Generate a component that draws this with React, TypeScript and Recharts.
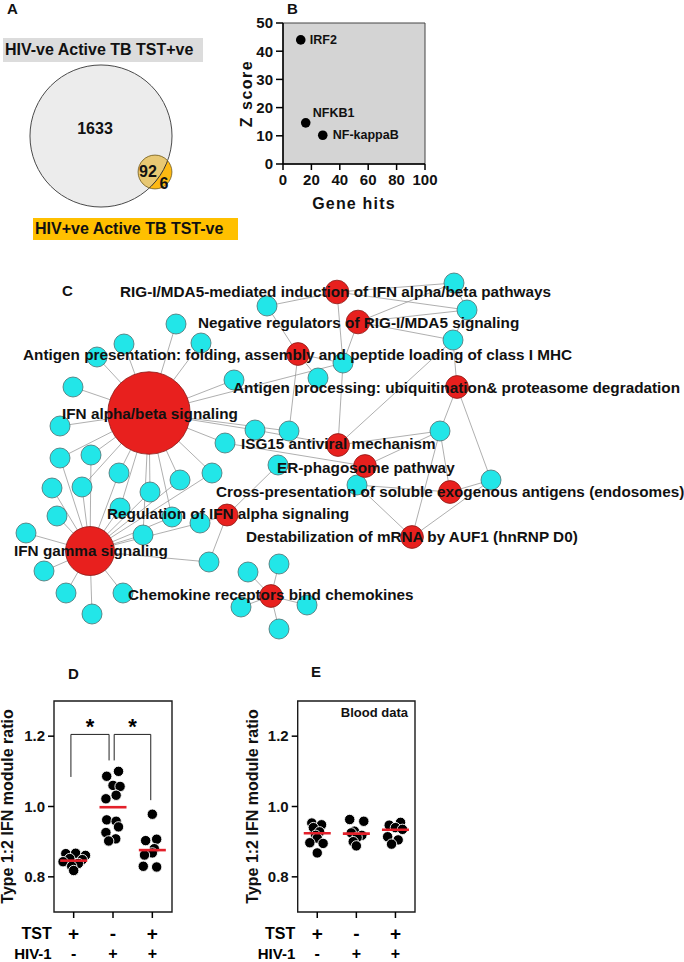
import React from 'react';
import { ScatterChart, Scatter, XAxis, YAxis, ReferenceArea, Label } from 'recharts';

const FONT = '"Liberation Sans", Arial, Helvetica, sans-serif';

// A: Venn of differentially expressed genes
const vennSets = ['HIV-ve Active TB TST+ve', 'HIV+ve Active TB TST-ve'];
const vennOnly = [1633, 6];
const vennShared = 92;

// B: upstream regulators
const tfNames = ['IRF2', 'NFKB1', 'NF-kappaB'];
const tfGeneHits = [12.5, 16, 28];
const tfZScore = [44, 14.6, 10.2];

// C: pathway network (layout coordinates)
const pathwayNames = [
  'IFN alpha/beta signaling',
  'IFN gamma signaling',
  'RIG-I/MDA5-mediated induction of IFN alpha/beta pathways',
  'Negative regulators of RIG-I/MDA5 signaling',
  'Antigen presentation: folding, assembly and peptide loading of class I MHC',
  'Antigen processing: ubiquitination& proteasome degradation',
  'ISG15 antiviral mechanism',
  'ER-phagosome pathway',
  'Cross-presentation of soluble exogenous antigens (endosomes)',
  'Regulation of IFN alpha signaling',
  'Destabilization of mRNA by AUF1 (hnRNP D0)',
  'Chemokine receptors bind chemokines',
];
const pathwayPos: [number, number][] = [
  [149, 413], [90, 551], [337, 292], [358, 322], [298, 354], [457, 387],
  [338, 445], [365, 466], [450, 492], [227, 515], [412, 537], [271, 596],
];
const pathwaySize = [17, 6, 1.4, 1.4, 1.3, 1.3, 1.3, 1.3, 1.3, 1.2, 1.3, 1.3];
const pathwayLabelPos: [number, number][] = [
  [62, 413], [14, 550], [120, 291], [198, 322], [23, 354], [233, 387],
  [241, 443], [277, 467], [216, 491], [107, 513], [246, 536], [128, 594],
];
const genePos: [number, number][] = [
  [267, 306], [176, 324], [124, 344], [201, 343], [97, 357], [73, 387], [234, 380], [318, 378],
  [454, 283], [467, 310], [453, 340], [343, 363], [60, 426], [255, 430], [289, 431], [225, 443],
  [440, 431], [60, 458], [91, 455], [119, 473], [212, 473], [180, 480], [278, 465], [52, 488],
  [82, 487], [150, 492], [357, 485], [491, 480], [57, 516], [120, 508], [172, 517], [200, 523],
  [143, 535], [26, 533], [44, 571], [209, 562], [66, 593], [123, 593], [92, 614], [248, 572],
  [279, 564], [241, 607], [307, 605], [279, 629],
];
const pathwayGenes: number[][] = [
  [2, 3, 4, 5, 6, 7, 12, 13, 14, 15, 16, 18, 19, 20, 21, 22, 25, 26, 30, 31, 33],
  [18, 19, 20, 21, 22, 24, 25, 26, 29, 30, 31, 32, 33, 34, 35, 36, 37, 38, 39],
  [1, 9, 10, 12],
  [9, 10, 11, 12],
  [1, 8, 12, 15],
  [11, 17, 28],
  [11, 12, 14, 17],
  [16, 17, 27],
  [17, 27, 28],
  [23, 32, 36],
  [17, 27, 28],
  [40, 41, 42, 43, 44],
];
const geneLinks: [number, number][] = [[9, 10], [10, 11]];

// D/E: type 1:2 IFN module ratio
const groupTicks = [1, 2, 3];
const tstSigns = ['+', '-', '+'];
const hivSigns = ['-', '+', '+'];
const lungValues = [
  [0.866, 0.867, 0.861, 0.852, 0.849, 0.843, 0.838, 0.83, 0.818],
  [1.1, 1.086, 1.06, 1.057, 1.032, 1.022, 0.962, 0.958, 0.942, 0.926, 0.908, 0.902],
  [0.978, 0.907, 0.903, 0.88, 0.868, 0.862, 0.83, 0.828],
];
const lungJitter = [
  [-0.2, 0.05, 0.3, -0.1, 0.22, -0.27, 0.12, -0.05, 0.0],
  [0.14, -0.16, 0.0, 0.18, 0.08, -0.18, -0.16, 0.08, 0.14, -0.18, 0.07, -0.11],
  [0.0, 0.11, -0.17, 0.05, 0.0, -0.2, -0.23, 0.11],
];
const lungMeans = [0.846, 0.998, 0.876];
const bloodValues = [
  [0.953, 0.948, 0.94, 0.928, 0.918, 0.91, 0.897, 0.895, 0.868],
  [0.963, 0.958, 0.93, 0.925, 0.918, 0.912, 0.9, 0.888],
  [0.955, 0.947, 0.94, 0.935, 0.914, 0.905, 0.893],
];
const bloodJitter = [
  [-0.14, 0.11, -0.1, 0.06, -0.04, 0.0, -0.19, 0.15, 0.0],
  [-0.17, 0.19, -0.05, -0.13, 0.14, 0.02, -0.08, 0.0],
  [0.13, -0.16, 0.0, 0.18, -0.2, 0.07, -0.1],
];
const bloodMeans = [0.924, 0.923, 0.934];
// significance brackets: [x start, y start leg, x end, y end leg], shared top
const lungBrackets = [[0.93, 1.084, 1.9, 1.131], [2.03, 1.131, 2.96, 1.018]];
const bracketTop = 1.205;

const Nothing = () => <g />;

function vTitle(text: string, dx: number, fontSize: number, spacing = 0) {
  return (props: any) => {
    const vb = props.viewBox || {};
    const x = (vb.x ?? 0) + dx;
    const y = (vb.y ?? 0) + (vb.height ?? 0) / 2;
    return (
      <text x={x} y={y} transform={`rotate(-90 ${x} ${y})`} textAnchor="middle" dominantBaseline="central"
        fontFamily={FONT} fontWeight={700} fontSize={fontSize} letterSpacing={spacing} fill="#111">
        {text}
      </text>
    );
  };
}

// ---------- Panel A ----------
const VENN_K = 1.71;
const vennLayout = [{ x: 101, y: 136 }, { x: 155, y: 172 }];
const vennData = vennSets.map((name, i) => ({
  name, x: vennLayout[i].x, y: vennLayout[i].y, total: vennOnly[i] + vennShared, only: vennOnly[i],
}));

const VennShape = (p: any) => {
  const r = VENN_K * Math.sqrt(p.payload.total);
  const txt = { fontFamily: FONT, fontWeight: 700, fontSize: 16, fill: '#111', textAnchor: 'middle' as const, dominantBaseline: 'central' as const };
  if (p.payload.name === vennSets[0]) {
    return (
      <g>
        <circle cx={p.cx} cy={p.cy} r={r} fill="#ececec" stroke="#4a4a4a" strokeWidth={1} />
        <text x={p.cx - 6} y={p.cy - 8} {...txt}>{p.payload.only}</text>
      </g>
    );
  }
  const big = vennData[0];
  const R = VENN_K * Math.sqrt(big.total);
  const bx = p.cx + (big.x - p.payload.x);
  const by = p.cy + (big.y - p.payload.y);
  return (
    <g>
      <defs>
        <clipPath id="vennBigClip"><circle cx={bx} cy={by} r={R} /></clipPath>
        <clipPath id="vennSmallClip"><circle cx={p.cx} cy={p.cy} r={r} /></clipPath>
      </defs>
      <circle cx={p.cx} cy={p.cy} r={r} fill="#fdb913" />
      <circle cx={p.cx} cy={p.cy} r={r} fill="#e8c873" clipPath="url(#vennBigClip)" />
      <circle cx={bx} cy={by} r={R} fill="none" stroke="#333" strokeWidth={1} clipPath="url(#vennSmallClip)" />
      <circle cx={p.cx} cy={p.cy} r={r} fill="none" stroke="#6b5a2a" strokeWidth={0.8} />
      <text x={p.cx - 7} y={p.cy - 1} {...txt}>{vennShared}</text>
      <text x={p.cx + 9} y={p.cy + 11} {...txt}>{p.payload.only}</text>
    </g>
  );
};

// ---------- Panel B ----------
const tfData = tfNames.map((name, i) => ({ name, x: tfGeneHits[i], y: tfZScore[i] }));
const tfLabelOffset: Record<string, [number, number]> = { IRF2: [9, 0], NFKB1: [7, -10], 'NF-kappaB': [10, 0] };
const TfDot = (p: any) => {
  const [dx, dy] = tfLabelOffset[p.payload.name] || [8, 0];
  return (
    <g>
      <circle cx={p.cx} cy={p.cy} r={4.8} fill="#000" />
      <text x={p.cx + dx} y={p.cy + dy} dominantBaseline="central" fontFamily={FONT} fontWeight={700}
        fontSize={12.5} fill="#111">{p.payload.name}</text>
    </g>
  );
};

// ---------- Panel C ----------
const geneNodes = genePos.map(([x, y]) => ({ x, y, size: 1, kind: 'gene' }));
const pathwayNodes = pathwayPos.map(([x, y], i) => ({ x, y, size: pathwaySize[i], kind: 'pathway' }));
const labelNodes = pathwayLabelPos.map(([x, y], i) => ({ x, y, text: pathwayNames[i] }));
const edges: { x: number; y: number }[][] = [];
pathwayGenes.forEach((genes, pi) => genes.forEach((g) => {
  edges.push([{ x: pathwayPos[pi][0], y: pathwayPos[pi][1] }, { x: genePos[g - 1][0], y: genePos[g - 1][1] }]);
}));
geneLinks.forEach(([a, b]) => {
  edges.push([{ x: genePos[a - 1][0], y: genePos[a - 1][1] }, { x: genePos[b - 1][0], y: genePos[b - 1][1] }]);
});

const NodeShape = (p: any) => {
  const r = 10 * Math.sqrt(p.payload.size);
  const gene = p.payload.kind === 'gene';
  return <circle cx={p.cx} cy={p.cy} r={r} fill={gene ? '#22e6e8' : '#e8201e'} stroke={gene ? '#4d6f70' : '#8a1a16'} strokeWidth={0.8} />;
};
const NodeLabel = (p: any) => (
  <text x={p.cx} y={p.cy} dominantBaseline="central" fontFamily={FONT} fontWeight={700} fontSize={15.3} fill="#111">
    {p.payload.text}
  </text>
);

// ---------- Panels D / E ----------
const SignTick = (p: any) => {
  const i = groupTicks.indexOf(p.payload.value);
  const s = { fontFamily: FONT, fontWeight: 700, fill: '#000', dominantBaseline: 'central' as const };
  return (
    <g>
      <text x={p.x} y={p.y + 13} textAnchor="middle" fontSize={19} {...s}>{tstSigns[i]}</text>
      <text x={p.x} y={p.y + 33} textAnchor="middle" fontSize={16} {...s}>{hivSigns[i]}</text>
      {i === 0 && <text x={p.x - 22} y={p.y + 13} textAnchor="end" fontSize={16} {...s}>TST</text>}
      {i === 0 && <text x={p.x - 22} y={p.y + 33} textAnchor="end" fontSize={15} {...s}>HIV-1</text>}
    </g>
  );
};
const Dot = (p: any) => <circle cx={p.cx} cy={p.cy} r={5.2} fill="#000" stroke="#fff" strokeWidth={0.9} />;
const MeanBar = (p: any) => <line x1={p.cx - 13.5} x2={p.cx + 13.5} y1={p.cy} y2={p.cy} stroke="#e3202a" strokeWidth={2.6} />;
const Star = (p: any) => (
  <text x={p.cx} y={p.cy + 12} textAnchor="middle" fontFamily={FONT} fontWeight={700} fontSize={22} fill="#000">*</text>
);

function DotPanel(props: {
  values: number[][]; jitter: number[][]; means: number[]; width: number; yAxisWidth: number;
  rightMargin: number; titleDx: number; note?: string; brackets?: number[][];
}) {
  const { values, jitter, means, width, yAxisWidth, rightMargin, titleDx, note, brackets = [] } = props;
  const dots = values.flatMap((vals, g) => vals.map((v, i) => ({ x: groupTicks[g] + jitter[g][i], y: v })));
  const meanData = means.map((m, g) => ({ x: groupTicks[g], y: m }));
  const stars = brackets.map((b) => ({ x: (b[0] + b[2]) / 2, y: bracketTop + 0.035 }));
  return (
    <ScatterChart width={width} height={312} margin={{ top: 51, right: rightMargin, bottom: 0, left: 0 }}>
      <XAxis type="number" dataKey="x" domain={[0.5, 3.5]} ticks={groupTicks} interval={0} allowDataOverflow
        axisLine={false} tickSize={6} tickLine={{ stroke: '#000', strokeWidth: 1.5 }} height={50}
        tick={(t: any) => <SignTick {...t} />} />
      <YAxis type="number" dataKey="y" domain={[0.7, 1.3]} ticks={[0.8, 1.0, 1.2]} allowDataOverflow
        axisLine={false} tickSize={6} tickMargin={3} width={yAxisWidth}
        tickLine={{ stroke: '#000', strokeWidth: 1.5 }}
        tickFormatter={(v: number) => v.toFixed(1)}
        tick={{ fontFamily: FONT, fontWeight: 700, fontSize: 15, fill: '#111' }}>
        <Label content={vTitle('Type 1:2 IFN module ratio', titleDx, 16)} />
      </YAxis>
      <ReferenceArea x1={0.5} x2={3.5} y1={0.7} y2={1.3} fill="none" stroke="#1a1a1a" strokeWidth={1.4} ifOverflow="visible">
        {note && (
          <Label value={note} position="insideTopRight" offset={7} fontFamily={FONT} fontWeight={700} fontSize={13} fill="#111" />
        )}
      </ReferenceArea>
      {brackets.map((b, i) => (
        <Scatter key={`br${i}`} data={[{ x: b[0], y: b[1] }, { x: b[0], y: bracketTop }, { x: b[2], y: bracketTop }, { x: b[2], y: b[3] }]}
          line={{ stroke: '#222', strokeWidth: 1 }} shape={Nothing} isAnimationActive={false} />
      ))}
      {stars.length > 0 && <Scatter data={stars} shape={Star} isAnimationActive={false} />}
      <Scatter data={dots} shape={Dot} isAnimationActive={false} />
      <Scatter data={meanData} shape={MeanBar} isAnimationActive={false} />
    </ScatterChart>
  );
}

const panelLetter = (t: string, left: number, baseline: number) => (
  <div key={t} style={{ position: 'absolute', left, top: baseline - 12.7, fontSize: 15, lineHeight: '15px', fontWeight: 700, color: '#111' }}>{t}</div>
);

export default function App() {
  return (
    <div style={{ position: 'absolute', left: 0, top: 0, width: 684, height: 962, background: '#fff', fontFamily: FONT, overflow: 'hidden' }}>
      {/* Panel A */}
      <div style={{ position: 'absolute', left: 0, top: 0 }}>
        <ScatterChart width={250} height={260} margin={{ top: 0, right: 0, bottom: 0, left: 0 }}>
          <XAxis type="number" dataKey="x" domain={[0, 250]} hide />
          <YAxis type="number" dataKey="y" domain={[0, 260]} reversed hide />
          <Scatter data={vennData} shape={VennShape} isAnimationActive={false} />
        </ScatterChart>
      </div>
      <div style={{ position: 'absolute', left: 3, top: 38, width: 200, height: 24, background: '#dcdcdc', fontSize: 16, fontWeight: 700, lineHeight: '24px', paddingLeft: 2, boxSizing: 'border-box', color: '#111', whiteSpace: 'nowrap' }}>
        {vennSets[0]}
      </div>
      <div style={{ position: 'absolute', left: 33, top: 218, width: 205, height: 22, background: '#ffc000', fontSize: 16, fontWeight: 700, lineHeight: '22px', paddingLeft: 2, boxSizing: 'border-box', color: '#111', whiteSpace: 'nowrap' }}>
        {vennSets[1]}
      </div>

      {/* Panel B */}
      <div style={{ position: 'absolute', left: 230, top: 0 }}>
        <ScatterChart width={210} height={215} margin={{ top: 23, right: 15, bottom: 0, left: 0 }}>
          <ReferenceArea x1={0} x2={100} y1={0} y2={50} fill="#d4d4d4" fillOpacity={1} stroke="#444" strokeWidth={1} />
          <XAxis type="number" dataKey="x" domain={[0, 100]} ticks={[0, 20, 40, 60, 80, 100]} interval={0} height={51}
            axisLine={{ stroke: '#000', strokeWidth: 1.5 }} tickLine={{ stroke: '#000', strokeWidth: 1.5 }} tickSize={6} tickMargin={4}
            tick={{ fontFamily: FONT, fontWeight: 700, fontSize: 15, fill: '#111' }}>
            <Label value="Gene hits" position="insideBottom" offset={6} fontFamily={FONT} fontWeight={700} fontSize={16} letterSpacing={1.2} fill="#111" />
          </XAxis>
          <YAxis type="number" dataKey="y" domain={[0, 50]} ticks={[0, 10, 20, 30, 40, 50]} interval={0} width={53}
            axisLine={{ stroke: '#000', strokeWidth: 1.5 }} tickLine={{ stroke: '#000', strokeWidth: 1.5 }} tickSize={7} tickMargin={3}
            tick={{ fontFamily: FONT, fontWeight: 700, fontSize: 15, fill: '#111' }}>
            <Label content={vTitle('Z score', 16, 16, 1.5)} />
          </YAxis>
          <Scatter data={tfData} shape={TfDot} isAnimationActive={false} />
        </ScatterChart>
      </div>

      {/* Panel C */}
      <div style={{ position: 'absolute', left: 0, top: 270 }}>
        <ScatterChart width={684} height={370} margin={{ top: 0, right: 0, bottom: 0, left: 0 }}>
          <XAxis type="number" dataKey="x" domain={[0, 684]} hide />
          <YAxis type="number" dataKey="y" domain={[270, 640]} reversed hide />
          {edges.map((e, i) => (
            <Scatter key={`e${i}`} data={e} line={{ stroke: '#9a9a9a', strokeWidth: 0.8 }} shape={Nothing} isAnimationActive={false} />
          ))}
          <Scatter data={geneNodes} shape={NodeShape} isAnimationActive={false} />
          <Scatter data={pathwayNodes} shape={NodeShape} isAnimationActive={false} />
          <Scatter data={labelNodes} shape={NodeLabel} isAnimationActive={false} />
        </ScatterChart>
      </div>

      {/* Panel D */}
      <div style={{ position: 'absolute', left: 0, top: 650 }}>
        <DotPanel values={lungValues} jitter={lungJitter} means={lungMeans} width={200} yAxisWidth={54}
          rightMargin={28} titleDx={7} brackets={lungBrackets} />
      </div>

      {/* Panel E */}
      <div style={{ position: 'absolute', left: 200, top: 650 }}>
        <DotPanel values={bloodValues} jitter={bloodJitter} means={bloodMeans} width={230} yAxisWidth={97.7}
          rightMargin={15} titleDx={52} note="Blood data" />
      </div>

      {panelLetter('A', 7, 14)}
      {panelLetter('B', 287, 14)}
      {panelLetter('C', 62, 296)}
      {panelLetter('D', 68, 679)}
      {panelLetter('E', 311, 677)}
    </div>
  );
}
